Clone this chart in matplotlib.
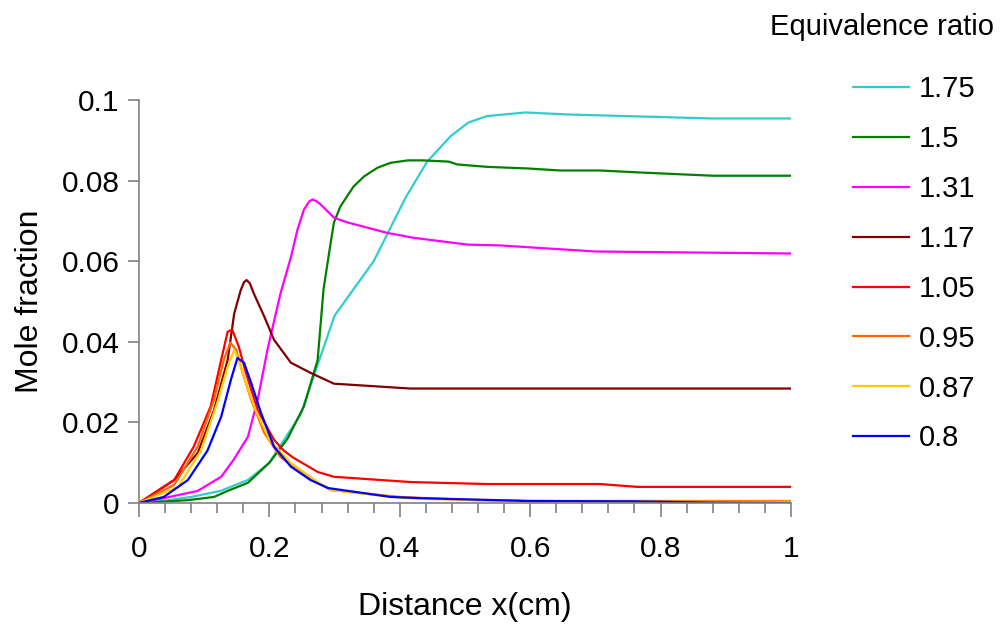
import matplotlib
matplotlib.use("Agg")
import matplotlib.pyplot as plt
from matplotlib.ticker import MultipleLocator

plt.rcParams['font.family'] = ['Liberation Sans', 'DejaVu Sans']

# mole fraction profiles, one pair of lists per equivalence ratio
x_175 = [0, 0.04, 0.08, 0.125, 0.167, 0.2, 0.248, 0.3, 0.36, 0.409, 0.442, 0.478, 0.505, 0.534, 0.593, 0.657, 0.88, 1.0]
y_175 = [0, 0.0006, 0.0015, 0.003, 0.0057, 0.01, 0.022, 0.0465, 0.06, 0.0758, 0.0847, 0.091, 0.0944, 0.096, 0.0969, 0.0964, 0.0954, 0.0954]

x_15 = [0, 0.075, 0.115, 0.136, 0.167, 0.2, 0.228, 0.253, 0.274, 0.283, 0.294, 0.299, 0.309, 0.329, 0.345, 0.366, 0.386, 0.412, 0.436, 0.475, 0.488, 0.534, 0.596, 0.646, 0.707, 0.769, 0.88, 1.0]
y_15 = [0, 0.0007, 0.0015, 0.003, 0.005, 0.01, 0.016, 0.024, 0.0355, 0.053, 0.0646, 0.0696, 0.0736, 0.0785, 0.081, 0.0832, 0.0844, 0.085, 0.085, 0.0847, 0.084, 0.0834, 0.083, 0.0825, 0.0825, 0.082, 0.0812, 0.0812]

x_131 = [0, 0.038, 0.09, 0.126, 0.145, 0.167, 0.182, 0.197, 0.217, 0.233, 0.243, 0.253, 0.261, 0.266, 0.272, 0.279, 0.299, 0.32, 0.381, 0.421, 0.504, 0.554, 0.7, 1.0]
y_131 = [0, 0.0012, 0.003, 0.0065, 0.0107, 0.0164, 0.0256, 0.038, 0.052, 0.061, 0.0678, 0.0728, 0.0748, 0.0753, 0.0749, 0.074, 0.0708, 0.0696, 0.067, 0.0658, 0.0641, 0.0639, 0.0624, 0.0619]

x_117 = [0, 0.054, 0.09, 0.115, 0.136, 0.146, 0.156, 0.161, 0.165, 0.17, 0.176, 0.192, 0.207, 0.233, 0.263, 0.299, 0.416, 1.0]
y_117 = [0, 0.0057, 0.0124, 0.023, 0.0355, 0.047, 0.0528, 0.0548, 0.0553, 0.0545, 0.052, 0.0463, 0.0405, 0.0348, 0.0323, 0.0296, 0.0284, 0.0284]

x_105 = [0, 0.054, 0.084, 0.11, 0.126, 0.136, 0.143, 0.153, 0.164, 0.182, 0.207, 0.222, 0.237, 0.274, 0.299, 0.416, 0.534, 0.707, 0.764, 1.0]
y_105 = [0, 0.0057, 0.014, 0.024, 0.0355, 0.0425, 0.043, 0.0388, 0.0323, 0.023, 0.0157, 0.013, 0.0112, 0.0077, 0.0065, 0.0052, 0.0047, 0.0047, 0.004, 0.004]

x_095 = [0, 0.054, 0.09, 0.115, 0.13, 0.14, 0.149, 0.159, 0.172, 0.192, 0.217, 0.258, 0.294, 0.4, 0.5, 0.6, 0.8, 1.0]
y_095 = [0, 0.0045, 0.014, 0.0256, 0.0355, 0.0398, 0.038, 0.0323, 0.0256, 0.0174, 0.0114, 0.0065, 0.0032, 0.0015, 0.0008, 0.0005, 0.0005, 0.0005]

x_087 = [0, 0.06, 0.095, 0.12, 0.136, 0.146, 0.153, 0.164, 0.179, 0.2, 0.233, 0.274, 0.294, 0.4, 0.5, 0.6, 0.8, 1.0]
y_087 = [0, 0.004, 0.013, 0.0248, 0.0338, 0.038, 0.0355, 0.0298, 0.023, 0.0157, 0.0099, 0.0052, 0.0032, 0.0013, 0.0007, 0.0004, 0.0003, 0.0003]

x_08 = [0, 0.038, 0.075, 0.105, 0.126, 0.141, 0.151, 0.161, 0.172, 0.187, 0.207, 0.233, 0.263, 0.29, 0.386, 0.43, 0.596, 0.758, 0.88, 1.0]
y_08 = [0, 0.0015, 0.0057, 0.013, 0.0214, 0.0306, 0.036, 0.0348, 0.0298, 0.0224, 0.014, 0.009, 0.0057, 0.0037, 0.0015, 0.0012, 0.0005, 0.0004, 0.0001, 0.0]

labels = ["1.75", "1.5", "1.31", "1.17", "1.05", "0.95", "0.87", "0.8"]
xs = [x_175, x_15, x_131, x_117, x_105, x_095, x_087, x_08]
ys = [y_175, y_15, y_131, y_117, y_105, y_095, y_087, y_08]
colors = ["#33CCCC", "#008000", "#FF00FF", "#800000", "#FF0000", "#FF6600", "#FFCC00", "#0000FF"]

fig = plt.figure(figsize=(10.03, 6.33), dpi=100)
ax = fig.add_axes([0.1386, 0.2054, 0.650, 0.6367])

for x, y, c, lab in zip(xs, ys, colors, labels):
    ax.plot(x, y, color=c, lw=1.6, label=lab)

ax.set_xlim(0, 1)
ax.set_ylim(0, 0.1)
ax.xaxis.set_major_locator(MultipleLocator(0.2))
ax.xaxis.set_minor_locator(MultipleLocator(0.04))
ax.yaxis.set_major_locator(MultipleLocator(0.02))
fmt = plt.FuncFormatter(lambda v, p: "%g" % round(v, 2))
ax.xaxis.set_major_formatter(fmt)
ax.yaxis.set_major_formatter(fmt)

for s in ["top", "right"]:
    ax.spines[s].set_visible(False)
for s in ["left", "bottom"]:
    ax.spines[s].set_color("#808080")
    ax.spines[s].set_linewidth(1.2)
ax.tick_params(axis="both", which="major", labelsize=21.5, color="#808080", width=1.2, direction="out")
ax.tick_params(axis="x", which="major", length=10, pad=13)
ax.tick_params(axis="x", which="minor", length=7, color="#808080", width=1.2)
ax.tick_params(axis="y", which="major", length=8, pad=6)

ax.set_xlabel("Distance x(cm)", fontsize=23, labelpad=21)
ax.set_ylabel("Mole fraction", fontsize=23, labelpad=12)

fig.text(0.768, 0.958, "Equivalence ratio", fontsize=21, va="center", ha="left")
leg = ax.legend(loc="upper left", bbox_to_anchor=(0.850, 0.881), bbox_transform=fig.transFigure,
                frameon=False, fontsize=21, handlelength=1.95, handletextpad=0.31,
                labelspacing=0.75, borderaxespad=0, borderpad=0)

fig.savefig("out.png", dpi=100)
